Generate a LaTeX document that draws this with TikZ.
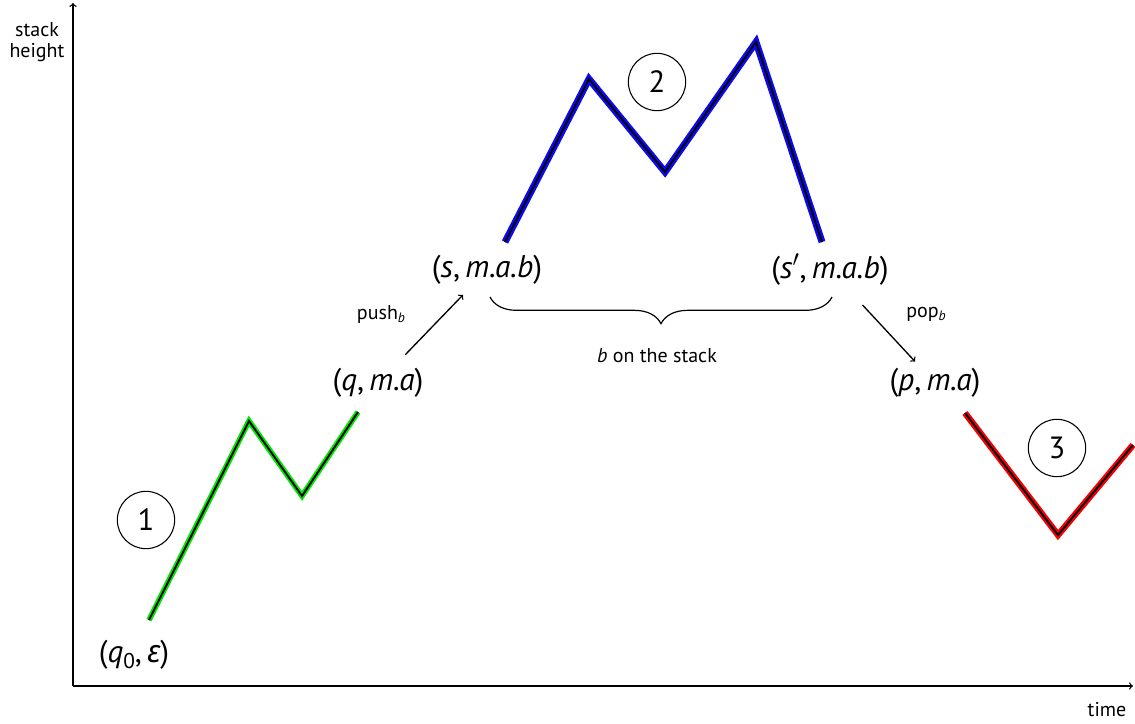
\documentclass[tikz,border=0pt]{standalone}
\usepackage{fontspec}
\setmainfont{PT Sans}
\newfontfamily\gk{Noto Sans}
\usetikzlibrary{decorations.pathreplacing,calc}
\newcommand\mysub[1]{\raisebox{-0.35ex}{\fontsize{0.68em}{1em}\selectfont #1}}
\begin{document}
\begin{tikzpicture}[x=0.75pt,y=-0.75pt,
  big/.style={font=\fontsize{23.5}{26}\selectfont, inner sep=0pt},
  small/.style={font=\fontsize{15}{17}\selectfont, inner sep=0pt, align=center},
  num/.style={draw, circle, minimum size=43pt, inner sep=0pt, font=\fontsize{23}{26}\selectfont, line width=0.8pt},
  core/.style={line width=1.4pt, black, line join=miter},
  axis/.style={line width=1pt, ->},
  ar/.style={line width=1pt, ->}]
\useasboundingbox (0,0) rectangle (1135,724);
\definecolor{runG}{RGB}{0,230,0}
\definecolor{runB}{RGB}{10,10,235}
\definecolor{runR}{RGB}{240,0,0}
% axes
\coordinate (o) at (73,686);
\coordinate (ytop) at (73,3);
\coordinate (xend) at (1133,686);
\draw[axis] (o) -- (ytop);
\draw[axis] (o) -- (xend);
\node[small] (ylab) at (37,42) {stack\\[-1pt]height};
\node[small] (xlab) at (1107,710) {time};
% run 1 (green)
\coordinate (g1) at (149,620);
\coordinate (g2) at (249,421);
\coordinate (g3) at (302,496);
\coordinate (g4) at (358,412);
\draw[core, preaction={draw, runG, line width=4.2pt}] (g1) -- (g2) -- (g3) -- (g4);
% run 2 (blue)
\coordinate (b1) at (505,242);
\coordinate (b2) at (589,79);
\coordinate (b3) at (665,172);
\coordinate (b4) at (756,42);
\coordinate (b5) at (822,242);
\draw[core, preaction={draw, runB, line width=5.2pt}] (b1) -- (b2) -- (b3) -- (b4) -- (b5);
% run 3 (red)
\coordinate (r1) at (965,413);
\coordinate (r2) at (1058,535);
\coordinate (r3) at (1133,445);
\draw[core, preaction={draw, runR, line width=4.8pt}] (r1) -- (r2) -- (r3);
% circled numbers
\node[num] (n1) at (146,520) {1};
\node[num] (n2) at (657,82) {2};
\node[num] (n3) at (1057,448) {3};
% configurations
\node[big] (q0) at (134,655) {(\textit{q}\mysub{0},\,{\gk\itshape ε})};
\node[big] (qma) at (378,383) {(\textit{q},\,\textit{m.a})};
\node[big] (sma) at (487,270) {(\textit{s},\,\textit{m.a.b})};
\node[big] (spma) at (830,270) {(\textit{s}$'$,\,\textit{m.a.b})};
\node[big] (pma) at (935,383) {(\textit{p},\,\textit{m.a})};
% push / pop
\draw[ar] ($(qma)!0.25!(sma)$) -- ($(qma)!0.78!(sma)$);
\node[small] (push) at (381,314) {push\mysub{\textit{b}}};
\draw[ar] ($(spma)!0.31!(pma)$) -- ($(spma)!0.81!(pma)$);
\node[small] (pop) at (926,314) {pop\mysub{\textit{b}}};
% brace
\coordinate (bl) at (490,297);
\coordinate (br) at (832,297);
\draw[line width=0.9pt, decorate, decoration={brace, mirror, amplitude=20pt}] (bl) -- (br);
\node[small] (bst) at (657,356) {\textit{b} on the stack};
\end{tikzpicture}
\end{document}
